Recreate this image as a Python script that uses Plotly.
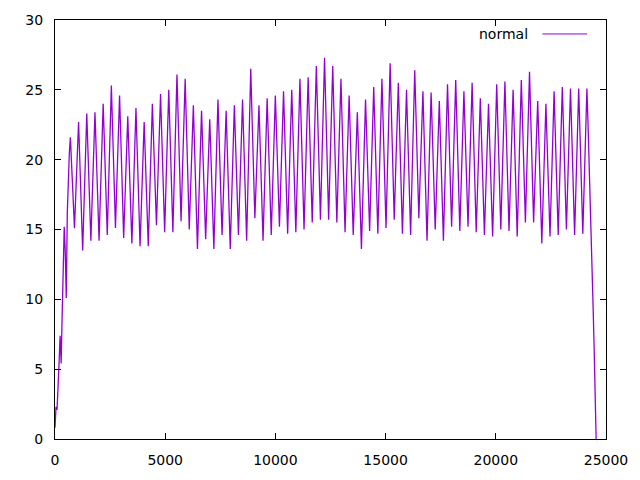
import numpy as np
import plotly.graph_objects as go

# sampling interval of the series (x units per sample)
x_step = 46.5

# initial ramp-up samples
start_ramp = [0.8, 2.3, 2.1, 3.4, 5.5, 7.4, 5.4, 8.9, 12.0, 15.2, 13.4, 10.1, 16.2, 19.2, 20.5]

# one row per oscillation: peak, falling samples, trough, rising samples
cycles = [
    [21.6, 20.0, 18.4, 16.7, 15.1, 17.0, 18.9, 20.8],
    [22.7, 20.4, 18.1, 15.8, 13.5, 16.0, 18.4, 20.9],
    [23.3, 21.0, 18.8, 16.5, 14.2, 16.5, 18.8, 21.1],
    [23.4, 21.1, 18.8, 16.5, 14.2, 16.7, 19.1, 21.6],
    [24.0, 21.7, 19.3, 16.9, 14.6, 17.3, 20.0, 22.6],
    [25.3, 22.7, 20.2, 17.7, 15.1, 17.5, 19.9, 22.2],
    [24.6, 22.1, 19.5, 17.0, 14.4, 16.6, 18.8, 20.9],
    [23.1, 20.8, 18.6, 16.3, 14.0, 16.4, 18.9, 21.3],
    [23.7, 21.2, 18.8, 16.3, 13.8, 16.0, 18.3, 20.5],
    [22.7, 20.5, 18.3, 16.0, 13.8, 16.4, 18.9, 21.5],
    [24.0, 21.8, 19.7, 17.5, 15.3, 17.7, 20.0, 22.4],
    [24.7, 22.2, 19.8, 17.3, 14.8, 17.4, 19.9, 22.5],
    [25.0, 22.5, 19.9, 17.4, 14.8, 17.6, 20.5, 23.3],
    [26.1, 23.5, 20.9, 18.2, 15.6, 18.2, 20.7, 23.3],
    [25.8, 23.1, 20.4, 17.7, 15.0, 17.2, 19.5, 21.7],
    [23.9, 21.3, 18.8, 16.2, 13.6, 16.1, 18.6, 21.0],
    [23.5, 21.2, 18.9, 16.6, 14.3, 16.5, 18.6, 20.8],
    [22.9, 20.6, 18.3, 15.9, 13.6, 16.3, 19.0, 21.6],
    [24.3, 21.9, 19.5, 17.0, 14.6, 16.8, 19.1, 21.3],
    [23.5, 21.0, 18.6, 16.1, 13.6, 16.2, 18.8, 21.3],
    [23.9, 21.6, 19.3, 16.9, 14.6, 17.0, 19.5, 21.9],
    [24.3, 21.8, 19.3, 16.7, 14.2, 17.3, 20.4, 23.4],
    [26.5, 23.8, 21.2, 18.5, 15.8, 17.8, 19.9, 21.9],
    [23.9, 21.5, 19.1, 16.6, 14.2, 16.8, 19.3, 21.9],
    [24.4, 22.0, 19.5, 17.1, 14.6, 17.1, 19.6, 22.1],
    [24.6, 22.3, 19.9, 17.6, 15.2, 17.6, 20.1, 22.5],
    [24.9, 22.4, 19.8, 17.3, 14.7, 17.3, 19.9, 22.4],
    [25.0, 22.5, 19.9, 17.4, 14.8, 17.6, 20.3, 23.1],
    [25.8, 23.1, 20.4, 17.7, 15.0, 17.7, 20.5, 23.2],
    [25.9, 23.3, 20.7, 18.1, 15.5, 18.3, 21.1, 23.9],
    [26.7, 24.0, 21.2, 18.5, 15.7, 18.6, 21.5, 24.4],
    [27.3, 24.4, 21.5, 18.6, 15.7, 18.5, 21.2, 24.0],
    [26.7, 23.9, 21.1, 18.3, 15.5, 18.1, 20.7, 23.2],
    [25.8, 23.1, 20.3, 17.6, 14.8, 17.3, 19.7, 22.2],
    [24.6, 22.1, 19.6, 17.1, 14.6, 16.8, 19.0, 21.2],
    [23.4, 21.0, 18.5, 16.1, 13.6, 16.3, 19.0, 21.6],
    [24.3, 22.0, 19.6, 17.3, 14.9, 17.5, 20.1, 22.6],
    [25.2, 22.6, 20.0, 17.3, 14.7, 17.5, 20.3, 23.0],
    [25.8, 23.1, 20.5, 17.8, 15.1, 18.1, 21.0, 24.0],
    [26.9, 24.1, 21.3, 18.5, 15.7, 18.2, 20.6, 23.1],
    [25.5, 22.8, 20.1, 17.4, 14.7, 17.3, 19.9, 22.4],
    [25.0, 22.4, 19.8, 17.2, 14.6, 17.6, 20.5, 23.5],
    [26.4, 23.8, 21.1, 18.5, 15.8, 18.1, 20.4, 22.6],
    [24.9, 22.2, 19.6, 16.9, 14.2, 16.9, 19.5, 22.2],
    [24.8, 22.4, 19.9, 17.5, 15.0, 17.3, 19.6, 21.9],
    [24.2, 21.7, 19.2, 16.7, 14.2, 17.0, 19.8, 22.6],
    [25.4, 22.9, 20.3, 17.8, 15.2, 17.8, 20.5, 23.1],
    [25.7, 23.0, 20.3, 17.6, 14.9, 17.4, 19.9, 22.4],
    [24.9, 22.5, 20.1, 17.6, 15.2, 17.8, 20.4, 22.9],
    [25.5, 22.8, 20.2, 17.5, 14.8, 17.2, 19.6, 22.0],
    [24.4, 22.0, 19.5, 17.1, 14.6, 17.0, 19.3, 21.7],
    [24.0, 21.6, 19.3, 16.9, 14.5, 17.2, 20.0, 22.7],
    [25.4, 22.8, 20.2, 17.6, 15.0, 17.7, 20.3, 23.0],
    [25.6, 22.9, 20.3, 17.6, 14.9, 17.4, 20.0, 22.5],
    [25.0, 22.4, 19.8, 17.1, 14.5, 17.3, 20.1, 22.9],
    [25.7, 23.2, 20.6, 18.1, 15.5, 18.2, 20.9, 23.6],
    [26.3, 23.6, 20.9, 18.2, 15.5, 17.7, 19.9, 22.0],
    [24.2, 21.7, 19.1, 16.6, 14.0, 16.5, 19.0, 21.5],
    [24.0, 21.6, 19.3, 16.9, 14.5, 17.1, 19.7, 22.3],
    [24.9, 22.3, 19.8, 17.2, 14.6, 17.3, 19.9, 22.6],
    [25.2, 22.7, 20.1, 17.6, 15.0, 17.5, 20.1, 22.6],
    [25.1, 22.5, 19.9, 17.2, 14.6, 17.2, 19.9, 22.5],
    [25.1, 22.5, 19.9, 17.3, 14.7, 17.3, 19.9, 22.5],
]

# final peak and ramp-down samples
end_ramp = [25.1, 22.8, 20.5, 17.9, 15.4, 12.8, 9.6, 6.7, 3.4, 0.0]

x_ticks = [0, 5000, 10000, 15000, 20000, 25000]
y_ticks = [0, 5, 10, 15, 20, 25, 30]
series_name = "normal"

y = np.array(start_ramp + [v for c in cycles for v in c] + end_ramp)
x = np.arange(len(y)) * x_step

line_color = "#9400D3"
font = dict(family="DejaVu Sans", size=14, color="black")

fig = go.Figure()
fig.add_trace(go.Scatter(x=x, y=y, mode="lines", name=series_name,
                         line=dict(color=line_color, width=1.3), showlegend=False))

axis_common = dict(showgrid=False, zeroline=False, showline=True, linecolor="black",
                   linewidth=1, mirror="ticks", ticks="inside", ticklen=6,
                   tickcolor="black", tickwidth=1, tickfont=font)

fig.update_xaxes(range=[0, 25000], tickvals=x_ticks,
                 ticktext=[str(v) for v in x_ticks], ticklabelstandoff=8, **axis_common)
fig.update_yaxes(range=[0, 30], tickvals=y_ticks,
                 ticktext=[str(v) for v in y_ticks], ticklabelstandoff=8, **axis_common)

# gnuplot-style key: text then line sample
fig.add_annotation(x=0.8628, y=0.9667, xref="paper", yref="paper", text=series_name,
                   showarrow=False, xanchor="right", yanchor="middle", font=font)
fig.add_shape(type="line", xref="paper", yref="paper", x0=0.8845, x1=0.9657,
              y0=0.9667, y1=0.9667, line=dict(color=line_color, width=1))

fig.update_layout(width=640, height=480, margin=dict(l=55, r=31, t=20, b=40),
                  plot_bgcolor="white", paper_bgcolor="white", font=font)

fig.write_html("out.html")
